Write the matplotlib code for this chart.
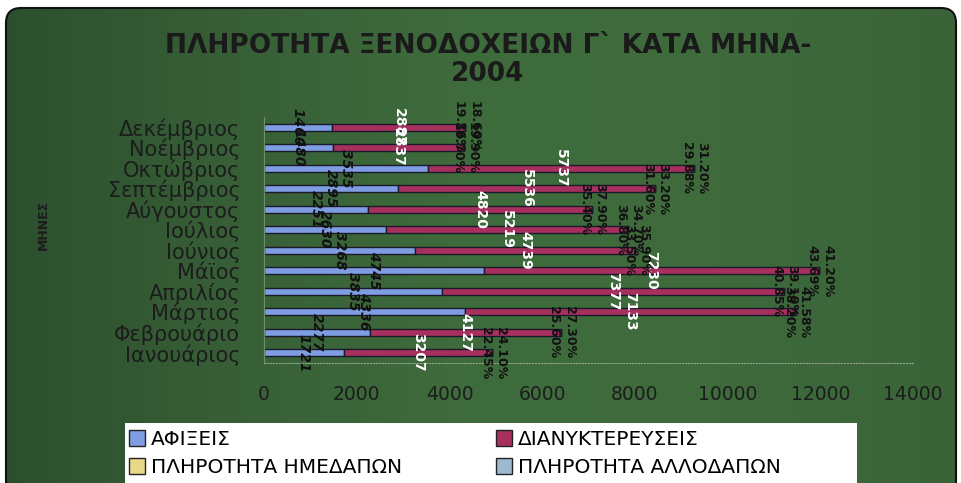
from matplotlib import pyplot as plt
from matplotlib.patches import FancyBboxPatch, Patch, Rectangle
import numpy as np

months = ["Ιανουάριος", "Φεβρουάριο", "Μάρτιος", "Απριλίος", "Μάϊος", "Ιούνιος",
          "Ιούλιος", "Αύγουστος", "Σεπτέμβριος", "Οκτώβριος", "Νοέμβριος", "Δεκέμβριος"]
arrivals = [1721, 2277, 4336, 3835, 4745, 3268, 2630, 2251, 2895, 3535, 1480, 1460]
nights = [3207, 4127, 7133, 7377, 7230, 4739, 5219, 4820, 5536, 5737, 2837, 2887]
occ_domestic = [0.2245, 0.2560, 0.3820, 0.4085, 0.4369, 0.3350, 0.3680, 0.3540, 0.3160, 0.2988, 0.1870, 0.1936]
occ_foreign = [0.2410, 0.2730, 0.4158, 0.3910, 0.4120, 0.3590, 0.3470, 0.3790, 0.3320, 0.3120, 0.1990, 0.1860]
xticks = [0, 2000, 4000, 6000, 8000, 10000, 12000, 14000]

series_names = ["ΑΦΙΞΕΙΣ", "ΔΙΑΝΥΚΤΕΡΕΥΣΕΙΣ", "ΠΛΗΡΟΤΗΤΑ ΗΜΕΔΑΠΩΝ", "ΠΛΗΡΟΤΗΤΑ ΑΛΛΟΔΑΠΩΝ"]
colors = ["#7f9de2", "#a8305e", "#e8d98a", "#9cb9d2"]

fig = plt.figure(figsize=(9.62, 4.83), dpi=100)
fig.patch.set_facecolor("white")

# rounded green background
bg = fig.add_axes([0, 0, 1, 1])
bg.set_xlim(0, 9.62)
bg.set_ylim(0, 4.83)
bg.axis("off")
grad = np.array([[44, 80, 46], [56, 96, 55], [63, 108, 61], [62, 106, 60], [58, 100, 56]]) / 255
xs = np.linspace(0, 1, 300)
img = np.stack([np.interp(xs, np.linspace(0, 1, 5), grad[:, i]) for i in range(3)], axis=-1)[None, :, :]
frame = FancyBboxPatch((0.06, -0.3), 9.5, 5.05, boxstyle="round,pad=0,rounding_size=0.15",
                       facecolor="none", edgecolor="#111111", linewidth=1.5)
bg.add_patch(frame)
im = bg.imshow(img, extent=[0.06, 9.56, -0.3, 4.75], aspect="auto")
im.set_clip_path(frame)
# white legend box
bg.add_patch(Rectangle((1.25, 0), 7.32, 0.6, facecolor="white", edgecolor="none", zorder=3))

ax = fig.add_axes([0.2744, 0.2484, 0.6746, 0.5096])
ax.set_facecolor("none")
y = np.arange(len(months))
h = 0.34
kw = dict(height=h, edgecolor="#1a1a2a", linewidth=1)

b1 = ax.barh(y, arrivals, color=colors[0], **kw)
b2 = ax.barh(y, nights, left=arrivals, color=colors[1], **kw)
left2 = np.array(arrivals) + np.array(nights)
b3 = ax.barh(y, occ_domestic, left=left2, color=colors[2], **kw)
b4 = ax.barh(y, occ_foreign, left=left2 + np.array(occ_domestic), color=colors[3], **kw)

ax.bar_label(b1, labels=[str(v) for v in arrivals], label_type="center", rotation=-90,
             color="#111111", fontsize=10, fontweight="bold", fontstyle="italic")
ax.bar_label(b2, labels=[str(v) for v in nights], label_type="center", rotation=-90,
             color="white", fontsize=10, fontweight="bold")

# percentage labels at the end of each bar, one each side of the tiny segments
for i in range(len(months)):
    end = left2[i] + occ_domestic[i]
    ax.annotate(f"{occ_domestic[i] * 100:.2f}%", (end, y[i]), xytext=(-5, 0),
                textcoords="offset points", rotation=-90, ha="center", va="center",
                fontsize=9, fontweight="bold", color="#111111")
    ax.annotate(f"{occ_foreign[i] * 100:.2f}%", (end + occ_foreign[i], y[i]), xytext=(6, 0),
                textcoords="offset points", rotation=-90, ha="center", va="center",
                fontsize=9, fontweight="bold", color="#111111")

ax.set_xlim(0, 14000)
ax.set_ylim(-0.5, len(months) - 0.5)
ax.set_yticks(y)
ax.set_yticklabels(months, fontsize=15, color="#1c1c1c")
ax.set_xticks(xticks)
ax.set_xticklabels([str(v) for v in xticks], fontsize=13.5, color="#1c1c1c")
ax.tick_params(axis="y", length=0, pad=17)
ax.tick_params(axis="x", length=0, pad=16)
for s in ["top", "right"]:
    ax.spines[s].set_visible(False)
ax.spines["left"].set_color("#6f8f6a")
ax.spines["left"].set_linewidth(0.8)
ax.spines["bottom"].set_color("#8fa58a")
ax.spines["bottom"].set_linestyle(":")
ax.spines["bottom"].set_linewidth(0.8)

ax.set_ylabel("ΜΗΝΕΣ", fontsize=9, fontweight="bold", color="#1c1c1c")
ax.yaxis.set_label_coords(-0.33, 0.56)

fig.text(0.507, 0.876, "ΠΛΗΡΟΤΗΤΑ ΞΕΝΟΔΟΧΕΙΩΝ Γ` ΚΑΤΑ ΜΗΝΑ-\n2004", ha="center", va="center",
         fontsize=19, fontweight="bold", color="#1a1a1a", linespacing=1.1)

# legend: two columns placed separately
handles = [Patch(facecolor=c, edgecolor="#222222") for c in colors]
lkw = dict(loc="upper left", frameon=False, prop={"family": "DejaVu Sans", "size": 14.5},
           handlelength=0.8, handleheight=0.8, handletextpad=0.3, labelspacing=0.45,
           borderpad=0.3, borderaxespad=0)
leg1 = fig.legend([handles[0], handles[2]], [series_names[0], series_names[2]],
                  bbox_to_anchor=(0.128, 0.122), **lkw)
leg2 = fig.legend([handles[1], handles[3]], [series_names[1], series_names[3]],
                  bbox_to_anchor=(0.509, 0.122), **lkw)

plt.savefig("out.png", dpi=100, facecolor=fig.get_facecolor())
